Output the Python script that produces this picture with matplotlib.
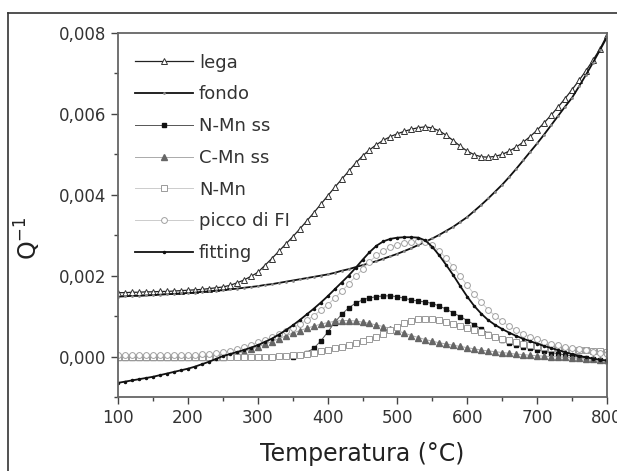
import numpy as np
import matplotlib
matplotlib.use("Agg")
import matplotlib.pyplot as plt
from matplotlib.lines import Line2D
from matplotlib.ticker import MultipleLocator, FuncFormatter

nan = np.nan

# temperature grid (°C), one reading every 10 degrees
temp = np.arange(100, 801, 10)

lega = [0.00158, 0.00158, 0.00159, 0.00159, 0.00160, 0.00160, 0.00161, 0.00161, 0.00162, 0.00163,
        0.00164, 0.00165, 0.00166, 0.00168, 0.00170, 0.00172, 0.00176, 0.00182, 0.00189, 0.00198,
        0.00208, 0.00225, 0.00242, 0.00260, 0.00278, 0.00296, 0.00315, 0.00335, 0.00355, 0.00376,
        0.00397, 0.00418, 0.00438, 0.00458, 0.00478, 0.00496, 0.00511, 0.00524, 0.00535, 0.00544,
        0.00551, 0.00557, 0.00562, 0.00566, 0.00568, 0.00565, 0.00558, 0.00547, 0.00534, 0.00520,
        0.00508, 0.00499, 0.00494, 0.00493, 0.00495, 0.00500, 0.00508, 0.00518, 0.00530, 0.00544,
        0.00560, 0.00578, 0.00597, 0.00617, 0.00638, 0.00660, 0.00683, 0.00707, 0.00733, 0.00761,
        0.00795]

fondo = [0.00148, 0.00149, 0.00150, 0.00150, 0.00151, 0.00152, 0.00153, 0.00154, 0.00155, 0.00156,
         0.00157, 0.00158, 0.00160, 0.00161, 0.00163, 0.00164, 0.00166, 0.00168, 0.00170, 0.00172,
         0.00174, 0.00177, 0.00179, 0.00182, 0.00185, 0.00188, 0.00191, 0.00194, 0.00197, 0.00200,
         0.00203, 0.00207, 0.00212, 0.00216, 0.00221, 0.00226, 0.00231, 0.00236, 0.00242, 0.00248,
         0.00254, 0.00261, 0.00268, 0.00276, 0.00284, 0.00292, 0.00301, 0.00311, 0.00321, 0.00333,
         0.00345, 0.00360, 0.00375, 0.00391, 0.00408, 0.00425, 0.00444, 0.00464, 0.00485, 0.00506,
         0.00527, 0.00549, 0.00572, 0.00595, 0.00618, 0.00640, 0.00668, 0.00697, 0.00727, 0.00758,
         0.00790]

nmn_ss = [nan, nan, nan, nan, nan, nan, nan, nan, nan, nan,
          nan, nan, nan, nan, nan, nan, nan, nan, nan, nan,
          nan, nan, nan, nan, nan, 0.00000, 0.00004, 0.00010, 0.00020, 0.00038,
          0.00060, 0.00084, 0.00104, 0.00120, 0.00132, 0.00140, 0.00145, 0.00148, 0.00150, 0.00150,
          0.00148, 0.00144, 0.00140, 0.00137, 0.00135, 0.00131, 0.00125, 0.00117, 0.00108, 0.00099,
          0.00089, 0.00079, 0.00068, 0.00057, 0.00048, 0.00040, 0.00033, 0.00028, 0.00024, 0.00020,
          0.00016, 0.00013, 0.00010, 0.00007, 0.00004, 0.00002, -0.00001, -0.00003, -0.00006, -0.00008,
          -0.00010]

cmn_ss = [0.0, 0.0, 0.0, 0.0, 0.0, 0.0, 0.0, 0.0, 0.0, 0.0,
          0.0, 0.0, 0.0, 0.0, 0.0, 0.0, 0.00003, 0.00007, 0.00012, 0.00018,
          0.00024, 0.00030, 0.00037, 0.00044, 0.00051, 0.00058, 0.00064, 0.00070, 0.00075, 0.00080,
          0.00084, 0.00087, 0.00089, 0.00089, 0.00088, 0.00085, 0.00082, 0.00078, 0.00074, 0.00069,
          0.00064, 0.00058, 0.00052, 0.00047, 0.00042, 0.00038, 0.00034, 0.00031, 0.00028, 0.00025,
          0.00022, 0.00019, 0.00016, 0.00014, 0.00012, 0.00010, 0.00008, 0.00006, 0.00005, 0.00003,
          0.00002, 0.00001, 0.00000, -0.00001, -0.00002, -0.00003, -0.00004, -0.00005, -0.00006, -0.00008,
          -0.00009]

nmn = [0.0, 0.0, 0.0, 0.0, 0.0, 0.0, 0.0, 0.0, 0.0, 0.0,
       0.0, 0.0, 0.0, 0.0, 0.0, 0.0, 0.0, 0.0, 0.0, 0.0,
       0.0, 0.0, 0.0, 0.00001, 0.00002, 0.00003, 0.00005, 0.00007, 0.00010, 0.00013,
       0.00016, 0.00020, 0.00024, 0.00029, 0.00034, 0.00039, 0.00044, 0.00049, 0.00056, 0.00065,
       0.00074, 0.00082, 0.00088, 0.00092, 0.00094, 0.00093, 0.00090, 0.00086, 0.00081, 0.00076,
       0.00071, 0.00066, 0.00060, 0.00054, 0.00049, 0.00044, 0.00040, 0.00036, 0.00032, 0.00029,
       0.00026, 0.00024, 0.00022, 0.00020, 0.00018, 0.00017, 0.00016, 0.00015, 0.00014, 0.00013,
       0.00012]

picco = [0.00005, 0.00005, 0.00004, 0.00004, 0.00004, 0.00004, 0.00004, 0.00004, 0.00004, 0.00004,
         0.00004, 0.00005, 0.00006, 0.00007, 0.00009, 0.00011, 0.00014, 0.00018, 0.00023, 0.00029,
         0.00035, 0.00041, 0.00048, 0.00055, 0.00063, 0.00071, 0.00080, 0.00090, 0.00101, 0.00114,
         0.00128, 0.00144, 0.00161, 0.00179, 0.00198, 0.00216, 0.00234, 0.00250, 0.00262, 0.00271,
         0.00277, 0.00281, 0.00284, 0.00285, 0.00283, 0.00275, 0.00261, 0.00243, 0.00222, 0.00199,
         0.00176, 0.00154, 0.00134, 0.00116, 0.00100, 0.00087, 0.00075, 0.00065, 0.00056, 0.00049,
         0.00043, 0.00037, 0.00032, 0.00028, 0.00024, 0.00021, 0.00018, 0.00015, 0.00012, 0.00009,
         0.00006]

fitting = [-0.00065, -0.00062, -0.00059, -0.00056, -0.00053, -0.00050, -0.00046, -0.00042, -0.00038, -0.00034,
           -0.00030, -0.00025, -0.00019, -0.00013, -0.00006, 0.00001, 0.00006, 0.00011, 0.00016, 0.00022,
           0.00028, 0.00036, 0.00044, 0.00054, 0.00065, 0.00077, 0.00090, 0.00104, 0.00118, 0.00133,
           0.00149, 0.00166, 0.00183, 0.00200, 0.00219, 0.00239, 0.00258, 0.00274, 0.00285, 0.00291,
           0.00294, 0.00295, 0.00295, 0.00294, 0.00287, 0.00271, 0.00250, 0.00226, 0.00201, 0.00174,
           0.00148, 0.00125, 0.00106, 0.00090, 0.00078, 0.00068, 0.00059, 0.00051, 0.00044, 0.00038,
           0.00032, 0.00026, 0.00021, 0.00016, 0.00011, 0.00006, 0.00002, -0.00002, -0.00005, -0.00008,
           -0.00010]

fig = plt.figure(figsize=(6.17, 4.71), dpi=100)
ax = fig.add_axes([118/617, 1 - 397/471, 489/617, 364/471])

# outer frame of the original figure
fig.add_artist(Line2D([8/617, 8/617], [0, 1 - 13/471], transform=fig.transFigure, color='#333333', lw=1.2))
fig.add_artist(Line2D([8/617, 1], [1 - 13/471, 1 - 13/471], transform=fig.transFigure, color='#333333', lw=1.2))

ms = 4.2
ax.plot(temp, lega, color='#222222', lw=0.9, marker='^', ms=ms, mfc='white', mec='#333333', mew=0.7, label='lega')
ax.plot(temp, fondo, color='#111111', lw=1.3, marker='.', ms=2, mfc='#888888', mec='#888888', label='fondo')
ax.plot(temp, nmn_ss, color='#555555', lw=0.7, marker='s', ms=2.2, mfc='#111111', mec='#111111', label='N-Mn ss')
ax.plot(temp, cmn_ss, color='#aaaaaa', lw=0.7, marker='^', ms=ms, mfc='#666666', mec='#666666', label='C-Mn ss')
ax.plot(temp, nmn, color='#cccccc', lw=0.7, marker='s', ms=ms, mfc='white', mec='#9a9a9a', mew=0.7, label='N-Mn')
ax.plot(temp, picco, color='#cccccc', lw=0.7, marker='o', ms=ms, mfc='white', mec='#a0a0a0', mew=0.7, label='picco di FI')
ax.plot(temp, fitting, color='#111111', lw=1.3, marker='.', ms=3, mfc='#111111', mec='#111111', label='fitting')

ax.set_xlim(100, 800)
ax.set_ylim(-0.001, 0.008)
ax.xaxis.set_major_locator(MultipleLocator(100))
ax.xaxis.set_minor_locator(MultipleLocator(50))
ax.yaxis.set_major_locator(MultipleLocator(0.002))
ax.yaxis.set_minor_locator(MultipleLocator(0.001))
ax.yaxis.set_major_formatter(FuncFormatter(lambda v, p: ('%.3f' % v).replace('.', ',')))

for s in ax.spines.values():
    s.set_color('#666666')
    s.set_linewidth(1.3)
ax.tick_params(which='major', direction='out', length=5, width=1, colors='#444444', labelsize=12, labelcolor='#333333')
ax.tick_params(which='minor', direction='out', length=3, width=1, colors='#444444')

ax.set_xlabel('Temperatura (°C)', fontsize=17, color='#222222')
ax.xaxis.set_label_coords(0.5, -0.125)
ax.set_ylabel('Q$^{-1}$', fontsize=17, color='#222222')
ax.yaxis.set_label_coords(-0.153, 0.437)

ax.legend(loc='upper left', bbox_to_anchor=(0.035, 0.943), frameon=False, fontsize=13,
          borderpad=0, borderaxespad=0, handlelength=3.2, handletextpad=0.33,
          labelspacing=0.76, numpoints=1, labelcolor='#333333')

fig.savefig('out.png', dpi=100)
